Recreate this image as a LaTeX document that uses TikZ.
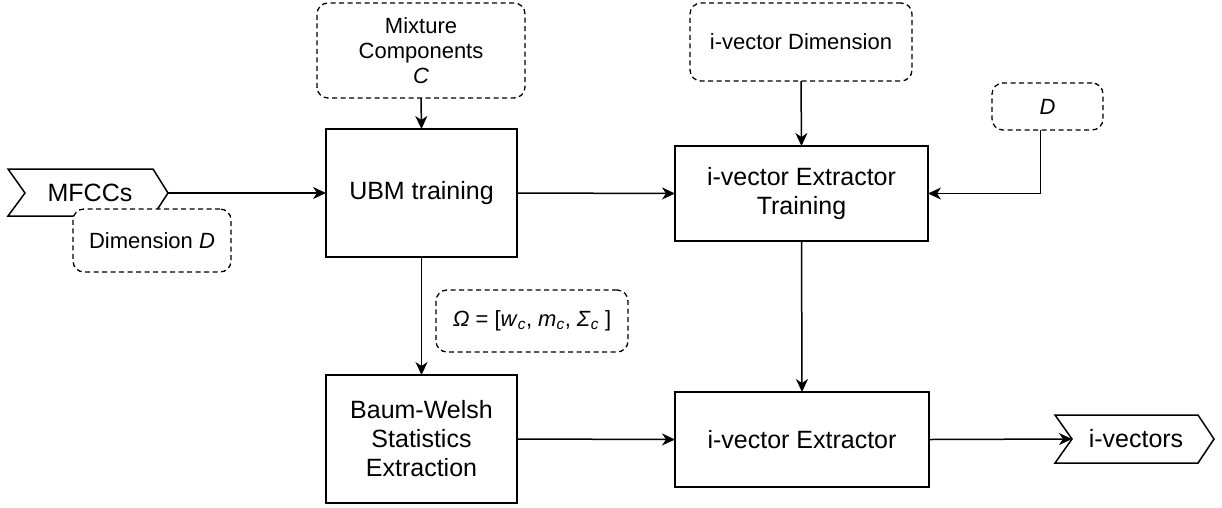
\documentclass[tikz,border=0pt]{standalone}
\usepackage{fontspec}
\setmainfont{Liberation Sans}
\usetikzlibrary{arrows.meta,calc}
\begin{document}
\begin{tikzpicture}[x=1pt,y=-1pt,
  box/.style={draw, line width=1.5pt, inner sep=0pt, outer sep=0pt, align=center, font=\fontsize{25}{29}\selectfont},
  param/.style={draw, line width=1.3pt, dash pattern=on 5pt off 3.5pt, rounded corners=11pt, fill=white, inner sep=0pt, outer sep=0pt, align=center, font=\fontsize{22}{25}\selectfont},
  flagshape/.style={draw, line width=1.5pt, line join=miter, fill=white},
  flagtext/.style={inner sep=0pt, font=\fontsize{25}{29}\selectfont},
  conn/.style={line width=1.5pt, -{Stealth[length=13pt, width=12pt, inset=4pt]}}
]
\useasboundingbox (0,0) rectangle (1222,507);

% MFCCs flag
\draw[flagshape] (8,169) -- (153,169) -- (168,193) -- (153,216) -- (8,216) -- (25,193) -- cycle;
\node[flagtext] (mfcc) at (90,193) {MFCCs};
\coordinate (mfcctip) at (168,193);
\node[param, minimum width=158pt, minimum height=63pt] (dimd) at (152,240.5) {Dimension \textit{D}};

% main boxes
\node[box, minimum width=191pt, minimum height=128pt] (ubm) at (421.5,193) {UBM training};
\node[box, minimum width=191pt, minimum height=128pt] (bw) at (421.5,439) {Baum-Welsh\\Statistics\\Extraction};
\node[box, minimum width=253pt, minimum height=95pt] (ivt) at (801.5,193.5) {i-vector Extractor\\Training};
\node[box, minimum width=254pt, minimum height=95pt] (ive) at (802,439.5) {i-vector Extractor};

% parameter boxes
\node[param, minimum width=208pt, minimum height=95pt] (mix) at (421,50.5) {Mixture\\Components\\\textit{C}};
\node[param, minimum width=222pt, minimum height=78pt] (ivd) at (801,42) {i-vector Dimension};
\node[param, minimum width=111pt, minimum height=47pt] (dd) at (1047.5,106.5) {\textit{D}};
\node[param, minimum width=192pt, minimum height=62pt] (om) at (532,321) {\textit{Ω} = [\textit{w}\textsubscript{\textit{c}}, \textit{m}\textsubscript{\textit{c}}, \textit{Σ}\textsubscript{\textit{c}} ]};

% i-vectors flag
\draw[flagshape] (1055,415) -- (1198,415) -- (1214,439) -- (1198,463) -- (1055,463) -- (1072,439) -- cycle;
\node[flagtext] (ivec) at (1136,439) {i-vectors};
\coordinate (ivecnotch) at (1072,439);

% connectors
\draw[conn] (mfcctip) -- (ubm.west);
\draw[conn] (mix.south) -- (ubm.north);
\draw[conn] (ubm.east) -- (ivt.west);
\draw[conn] (ivd.south) -- (ivt.north);
\coordinate (ddfoot) at ($(dd.south)+(-7,0)$);
\draw[conn] (ddfoot) |- (ivt.east);
\draw[conn] (ubm.south) -- (bw.north);
\draw[conn] (ivt.south) -- (ive.north);
\draw[conn] (bw.east) -- (ive.west);
\draw[conn] (ive.east) -- (ivecnotch);
\end{tikzpicture}
\end{document}
